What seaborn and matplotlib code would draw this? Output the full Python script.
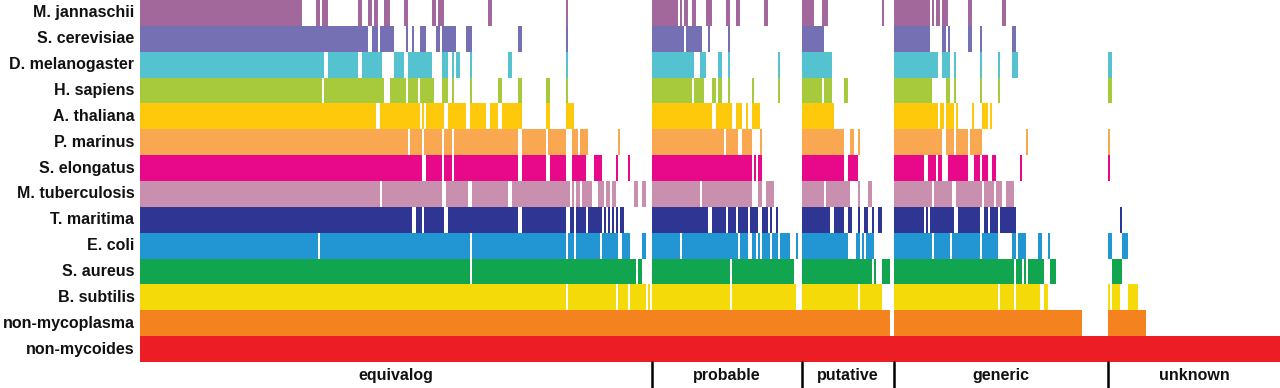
import numpy as np
import pandas as pd
import seaborn as sns
import matplotlib.pyplot as plt
from matplotlib.colors import ListedColormap

# ---------------------------------------------------------
# Data: genes ordered by TIGRFAM class, presence per genome
# ---------------------------------------------------------
organisms = ["M. jannaschii", "S. cerevisiae", "D. melanogaster", "H. sapiens",
             "A. thaliana", "P. marinus", "S. elongatus", "M. tuberculosis",
             "T. maritima", "E. coli", "S. aureus", "B. subtilis",
             "non-mycoplasma", "non-mycoides"]
colors = ["#a3689b", "#7570b3", "#55c3cf", "#a6ca3b", "#ffc90b", "#f9a851",
          "#e8088a", "#c98fae", "#2e3592", "#2196d3", "#12a550", "#f5da0a",
          "#f4821f", "#ec1d25"]

category_names = ["equivalog", "probable", "putative", "generic", "unknown"]
category_sizes = [256, 75, 46, 107, 86]

# present gene ranges (start, end) per genome
m_jannaschii = [(0, 81), (88, 90), (91, 94), (109, 111), (114, 116), (117, 119), (122, 125),
                (132, 134), (146, 148), (149, 152), (174, 176), (213, 214), (256, 269),
                (270, 271), (272, 274), (276, 278), (283, 286), (293, 295), (298, 300),
                (312, 314), (331, 337), (341, 344), (371, 372), (377, 395), (396, 397),
                (398, 400), (401, 404), (414, 416), (431, 433)]
s_cerevisiae = [(0, 114), (116, 119), (120, 127), (133, 134), (136, 137), (140, 143),
                (148, 150), (151, 158), (163, 166), (189, 191), (213, 214), (256, 272),
                (273, 281), (284, 285), (294, 295), (331, 342), (377, 395), (401, 403),
                (404, 405), (414, 416), (420, 421), (436, 438)]
d_melanogaster = [(0, 92), (94, 109), (111, 121), (127, 132), (134, 146), (151, 154),
                  (156, 157), (158, 160), (165, 166), (184, 186), (213, 214), (256, 277),
                  (280, 283), (289, 291), (294, 295), (319, 320), (331, 346), (377, 399),
                  (401, 405), (407, 408), (420, 421), (429, 430), (436, 439), (484, 486)]
h_sapiens = [(0, 91), (92, 122), (125, 133), (134, 139), (140, 147), (151, 154), (156, 157),
             (165, 166), (179, 181), (189, 191), (203, 205), (213, 214), (256, 276),
             (277, 282), (286, 288), (289, 291), (294, 295), (306, 307), (319, 320),
             (331, 341), (342, 346), (352, 354), (377, 396), (403, 405), (407, 408),
             (420, 421), (429, 430), (484, 486)]
a_thaliana = [(0, 118), (120, 140), (141, 142), (143, 152), (154, 163), (165, 173),
              (175, 179), (181, 191), (203, 205), (213, 217), (256, 286), (288, 296),
              (298, 301), (303, 304), (306, 310), (331, 347), (377, 399), (400, 402),
              (403, 407), (408, 409), (416, 417), (421, 424), (425, 426)]
p_marinus = [(0, 134), (135, 141), (142, 151), (152, 156), (157, 189), (191, 203),
             (204, 213), (216, 219), (220, 224), (239, 240), (256, 292), (293, 299),
             (301, 306), (310, 311), (331, 352), (355, 357), (359, 360), (377, 401),
             (403, 407), (408, 414), (415, 421), (443, 444), (484, 485)]
s_elongatus = [(0, 141), (143, 151), (152, 156), (157, 189), (191, 203), (205, 213),
               (216, 223), (227, 231), (238, 239), (244, 245), (256, 306), (307, 308),
               (309, 311), (331, 352), (354, 359), (377, 392), (394, 398), (399, 401),
               (404, 414), (417, 420), (421, 424), (426, 428), (440, 441), (484, 485)]
m_tuberculosis = [(0, 120), (121, 151), (153, 164), (166, 184), (186, 215), (216, 217),
                  (218, 220), (221, 226), (229, 232), (233, 235), (236, 238), (247, 249),
                  (251, 253), (256, 280), (281, 306), (309, 311), (313, 317), (331, 342),
                  (343, 355), (359, 360), (364, 366), (377, 396), (397, 406), (408, 421),
                  (422, 427), (428, 431), (433, 437)]
t_maritima = [(0, 136), (138, 141), (142, 152), (154, 189), (191, 213), (215, 217),
              (218, 223), (224, 231), (232, 233), (234, 235), (236, 237), (238, 239),
              (240, 242), (256, 284), (286, 293), (294, 298), (299, 304), (305, 309),
              (311, 314), (315, 316), (318, 319), (331, 345), (347, 352), (354, 356),
              (359, 360), (362, 364), (366, 367), (369, 371), (377, 392), (393, 394),
              (395, 407), (409, 420), (422, 424), (425, 429), (430, 438), (490, 491)]
e_coli = [(0, 89), (90, 165), (166, 213), (214, 217), (218, 230), (231, 239), (241, 245),
          (251, 253), (256, 270), (271, 299), (300, 304), (306, 308), (309, 310),
          (311, 315), (316, 319), (320, 325), (328, 329), (331, 354), (358, 360),
          (361, 362), (363, 367), (377, 396), (397, 405), (406, 420), (421, 429),
          (436, 438), (439, 443), (449, 451), (454, 455), (484, 486), (491, 494)]
s_aureus = [(0, 165), (166, 248), (249, 251), (256, 295), (296, 327), (331, 366),
            (367, 368), (371, 375), (377, 437), (438, 441), (442, 443), (444, 452),
            (455, 458), (486, 491)]
b_subtilis = [(0, 213), (214, 238), (239, 244), (245, 253), (254, 255), (256, 295),
              (296, 328), (331, 359), (360, 371), (377, 429), (430, 437), (438, 450),
              (452, 454), (484, 485), (486, 490), (494, 499)]
non_mycoplasma = [(0, 375), (377, 471), (484, 503)]
non_mycoides = [(0, 570)]

rows = [m_jannaschii, s_cerevisiae, d_melanogaster, h_sapiens, a_thaliana, p_marinus,
        s_elongatus, m_tuberculosis, t_maritima, e_coli, s_aureus, b_subtilis,
        non_mycoplasma, non_mycoides]

# ---------------------------------------------------------
# Build the presence grid (0 = absent, i+1 = present in row i)
# ---------------------------------------------------------
n_genes = sum(category_sizes)
grid = np.zeros((len(organisms), n_genes))
for i, segs in enumerate(rows):
    for a, b in segs:
        grid[i, a:b] = i + 1
df = pd.DataFrame(grid, index=organisms)

sns.set_theme(style="white")
plt.rcParams['font.family'] = ['Liberation Sans', 'DejaVu Sans']

fig = plt.figure(figsize=(12.8, 3.88), dpi=100)
ax = fig.add_axes([140 / 1280, 26 / 388, 1140 / 1280, 362 / 388])

cmap = ListedColormap(["white"] + colors)
sns.heatmap(df, ax=ax, cmap=cmap, vmin=-0.5, vmax=len(colors) + 0.5,
            cbar=False, xticklabels=False, yticklabels=True)

ax.set_xlabel("")
ax.set_ylabel("")
ax.tick_params(axis="y", length=0, pad=4, labelsize=11.5, labelcolor="#111111")
for lab in ax.get_yticklabels():
    lab.set_fontweight("bold")
    lab.set_rotation(0)

# category strip below the grid
nrow = len(organisms)
edges = np.cumsum([0] + category_sizes)
for x in edges[1:-1]:
    ax.plot([x, x], [nrow, nrow + 1.05], color="black", lw=1.8, clip_on=False)
for name, a, b in zip(category_names, edges[:-1], edges[1:]):
    ax.text((a + b) / 2, nrow + 0.52, name, ha="center", va="center",
            fontsize=11.5, fontweight="bold", color="#111111")

fig.savefig("out.png", dpi=100)
